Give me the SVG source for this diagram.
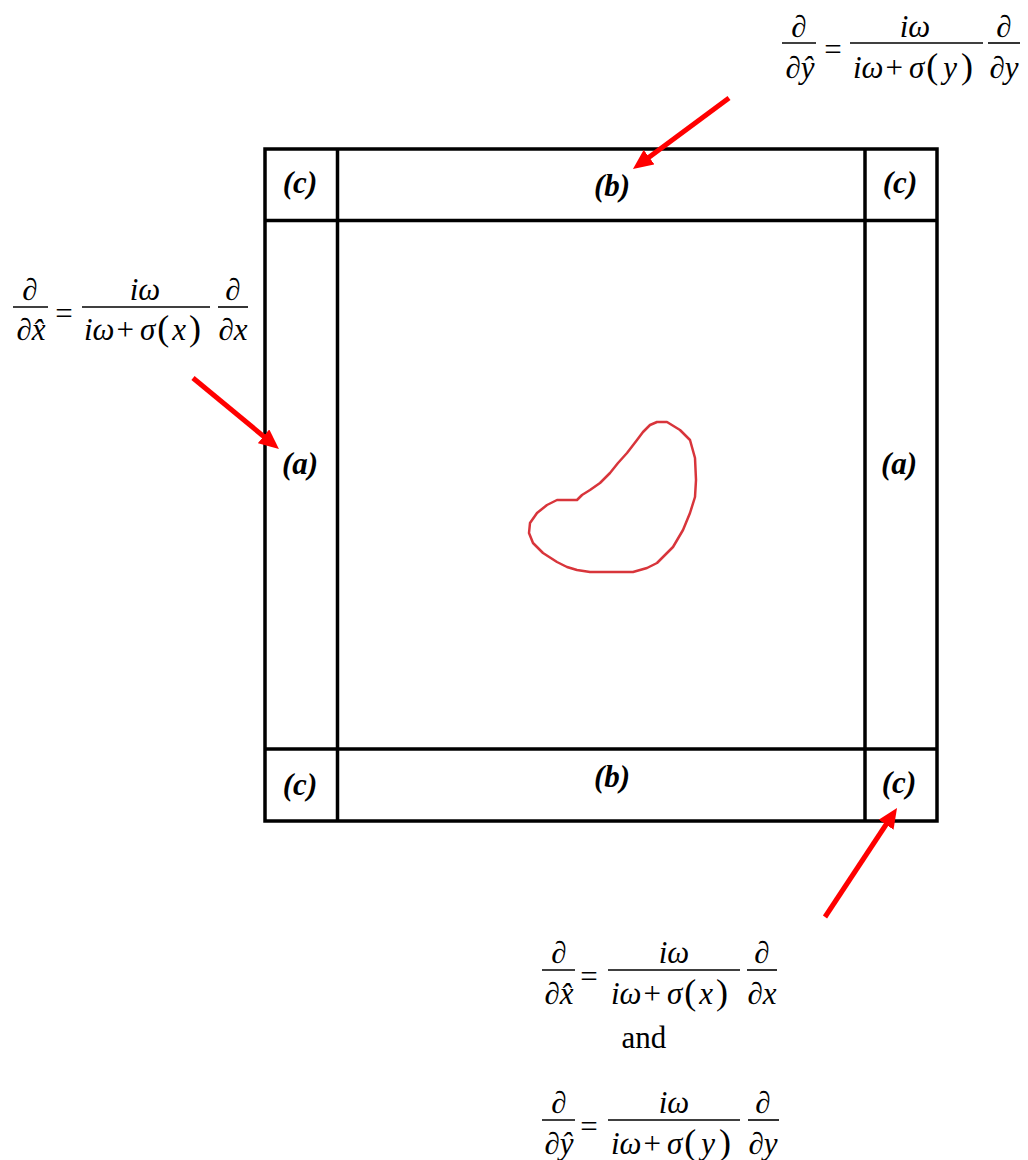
<svg xmlns="http://www.w3.org/2000/svg" width="1028" height="1160" viewBox="0 0 1028 1160">
<style>
  .grid{fill:none;stroke:#000;stroke-width:3.5}
  .lbl{font-family:"Liberation Serif",serif;font-size:31px;font-weight:bold;font-style:italic;text-anchor:middle;fill:#000}
  .eq text{font-family:"Liberation Serif","DejaVu Serif",serif;font-size:31px;text-anchor:middle;fill:#000}
  .eq .v{font-style:italic}
  .eq .p{font-size:36px;font-style:normal}
  .eq .u{font-style:normal}
  .eq text.den{text-anchor:start}
  .eq line{stroke:#000;stroke-width:1.6}
  .arr{stroke:#ff0000;stroke-width:5;fill:none}
  .plain{font-family:"Liberation Serif",serif;font-size:31px;text-anchor:middle;fill:#000}
</style>
<defs>
  <marker id="ah" viewBox="0 0 20 18" refX="8" refY="9" markerWidth="20" markerHeight="18" markerUnits="userSpaceOnUse" orient="auto">
    <path d="M0,0 L20,9 L0,18 Z" fill="#ff0000"/>
  </marker>
</defs>
<rect width="1028" height="1160" fill="#fff"/>

<g id="domain">
  <rect class="grid" x="265" y="149" width="672" height="672"/>
  <line class="grid" x1="337.5" y1="149" x2="337.5" y2="821"/>
  <line class="grid" x1="865" y1="149" x2="865" y2="821"/>
  <line class="grid" x1="265" y1="220.5" x2="937" y2="220.5"/>
  <line class="grid" x1="265" y1="749" x2="937" y2="749"/>
</g>

<g id="region-c-tl"><text class="lbl" x="300" y="193">(c)</text></g>
<g id="region-b-top"><text class="lbl" x="612" y="196">(b)</text></g>
<g id="region-c-tr"><text class="lbl" x="900" y="193">(c)</text></g>
<g id="region-a-left"><text class="lbl" x="300" y="474">(a)</text></g>
<g id="region-a-right"><text class="lbl" x="899" y="474">(a)</text></g>
<g id="region-c-bl"><text class="lbl" x="300" y="795">(c)</text></g>
<g id="region-b-bottom"><text class="lbl" x="612" y="787">(b)</text></g>
<g id="region-c-br"><text class="lbl" x="899" y="793">(c)</text></g>

<g id="scatterer">
  <path d="M657,422 L667,422 L680,430 L690,440 L695,458 L696,480 L695,497 L690,513 L683,530 L673,547 L663,557 L657,563 L647,568 L633,572 L617,572 L590,572 L577,570 L567,567 L557,562 L543,553 L533,543 L529,533 L530,523 L537,513 L547,505 L557,500 L577,500 L582,495 L590,490 L600,483 L610,473 L618,463 L627,453 L637,440 L643,432 L650,425 Z" fill="none" stroke="#d8353b" stroke-width="2.5" stroke-linejoin="round"/>
</g>

<g id="eq-top" class="eq" transform="translate(782,43)">
  <line x1="0" y1="0" x2="34" y2="0"/>
  <text x="17" y="-6">∂</text>
  <text x="18" y="35">∂<tspan class="v">ŷ</tspan></text>
  <text x="51" y="17">=</text>
  <line x1="68" y1="0" x2="201" y2="0"/>
  <text class="v" x="133" y="-6">iω</text>
  <text class="den" x="71" y="35"><tspan class="v">iω</tspan><tspan dx="2">+</tspan><tspan class="v" dx="6">σ</tspan><tspan class="p" dx="2">(</tspan><tspan class="v" dx="5">y</tspan><tspan class="p" dx="4">)</tspan></text>
  <line x1="206" y1="0" x2="238" y2="0"/>
  <text x="222" y="-6">∂</text>
  <text x="222" y="35">∂<tspan class="v">y</tspan></text>
</g>

<g id="eq-left" class="eq" transform="translate(13,307)">
  <line x1="0" y1="0" x2="35" y2="0"/>
  <text x="17" y="-7">∂</text>
  <text x="18" y="33">∂<tspan class="v">x̂</tspan></text>
  <text x="51" y="17">=</text>
  <line x1="69" y1="0" x2="197" y2="0"/>
  <text class="v" x="132" y="-7">iω</text>
  <text class="den" x="71" y="33"><tspan class="v">iω</tspan><tspan dx="2">+</tspan><tspan class="v" dx="6">σ</tspan><tspan class="p" dx="2">(</tspan><tspan class="v" dx="3">x</tspan><tspan class="p" dx="3">)</tspan></text>
  <line x1="205" y1="0" x2="235" y2="0"/>
  <text x="220" y="-7">∂</text>
  <text x="220" y="33">∂<tspan class="v">x</tspan></text>
</g>

<g id="eq-bottom" class="eq">
  <g transform="translate(542,970)">
    <line x1="0" y1="0" x2="33" y2="0"/>
    <text x="17" y="-7">∂</text>
    <text x="17" y="34">∂<tspan class="v">x̂</tspan></text>
    <text x="47" y="17">=</text>
    <line x1="66" y1="0" x2="198" y2="0"/>
    <text class="v" x="132" y="-7">iω</text>
    <text class="den" x="69" y="34"><tspan class="v">iω</tspan><tspan dx="2">+</tspan><tspan class="v" dx="6">σ</tspan><tspan class="p" dx="2">(</tspan><tspan class="v" dx="3">x</tspan><tspan class="p" dx="3">)</tspan></text>
    <line x1="205" y1="0" x2="235" y2="0"/>
    <text x="220" y="-7">∂</text>
    <text x="220" y="34">∂<tspan class="v">x</tspan></text>
  </g>
  <text class="plain" x="644" y="1048">and</text>
  <g transform="translate(542,1120)">
    <line x1="0" y1="0" x2="33" y2="0"/>
    <text x="17" y="-7">∂</text>
    <text x="17" y="34">∂<tspan class="v">ŷ</tspan></text>
    <text x="47" y="17">=</text>
    <line x1="66" y1="0" x2="198" y2="0"/>
    <text class="v" x="132" y="-7">iω</text>
    <text class="den" x="69" y="34"><tspan class="v">iω</tspan><tspan dx="2">+</tspan><tspan class="v" dx="6">σ</tspan><tspan class="p" dx="2">(</tspan><tspan class="v" dx="5">y</tspan><tspan class="p" dx="4">)</tspan></text>
    <line x1="206" y1="0" x2="237" y2="0"/>
    <text x="221" y="-7">∂</text>
    <text x="221" y="34">∂<tspan class="v">y</tspan></text>
  </g>
</g>

<g id="connectors">
  <line class="arr" x1="729" y1="98" x2="642.6" y2="161.9" marker-end="url(#ah)"/>
  <line class="arr" x1="193" y1="378" x2="269.7" y2="441.4" marker-end="url(#ah)"/>
  <line class="arr" x1="825" y1="917" x2="890.4" y2="818" marker-end="url(#ah)"/>
</g>
</svg>
